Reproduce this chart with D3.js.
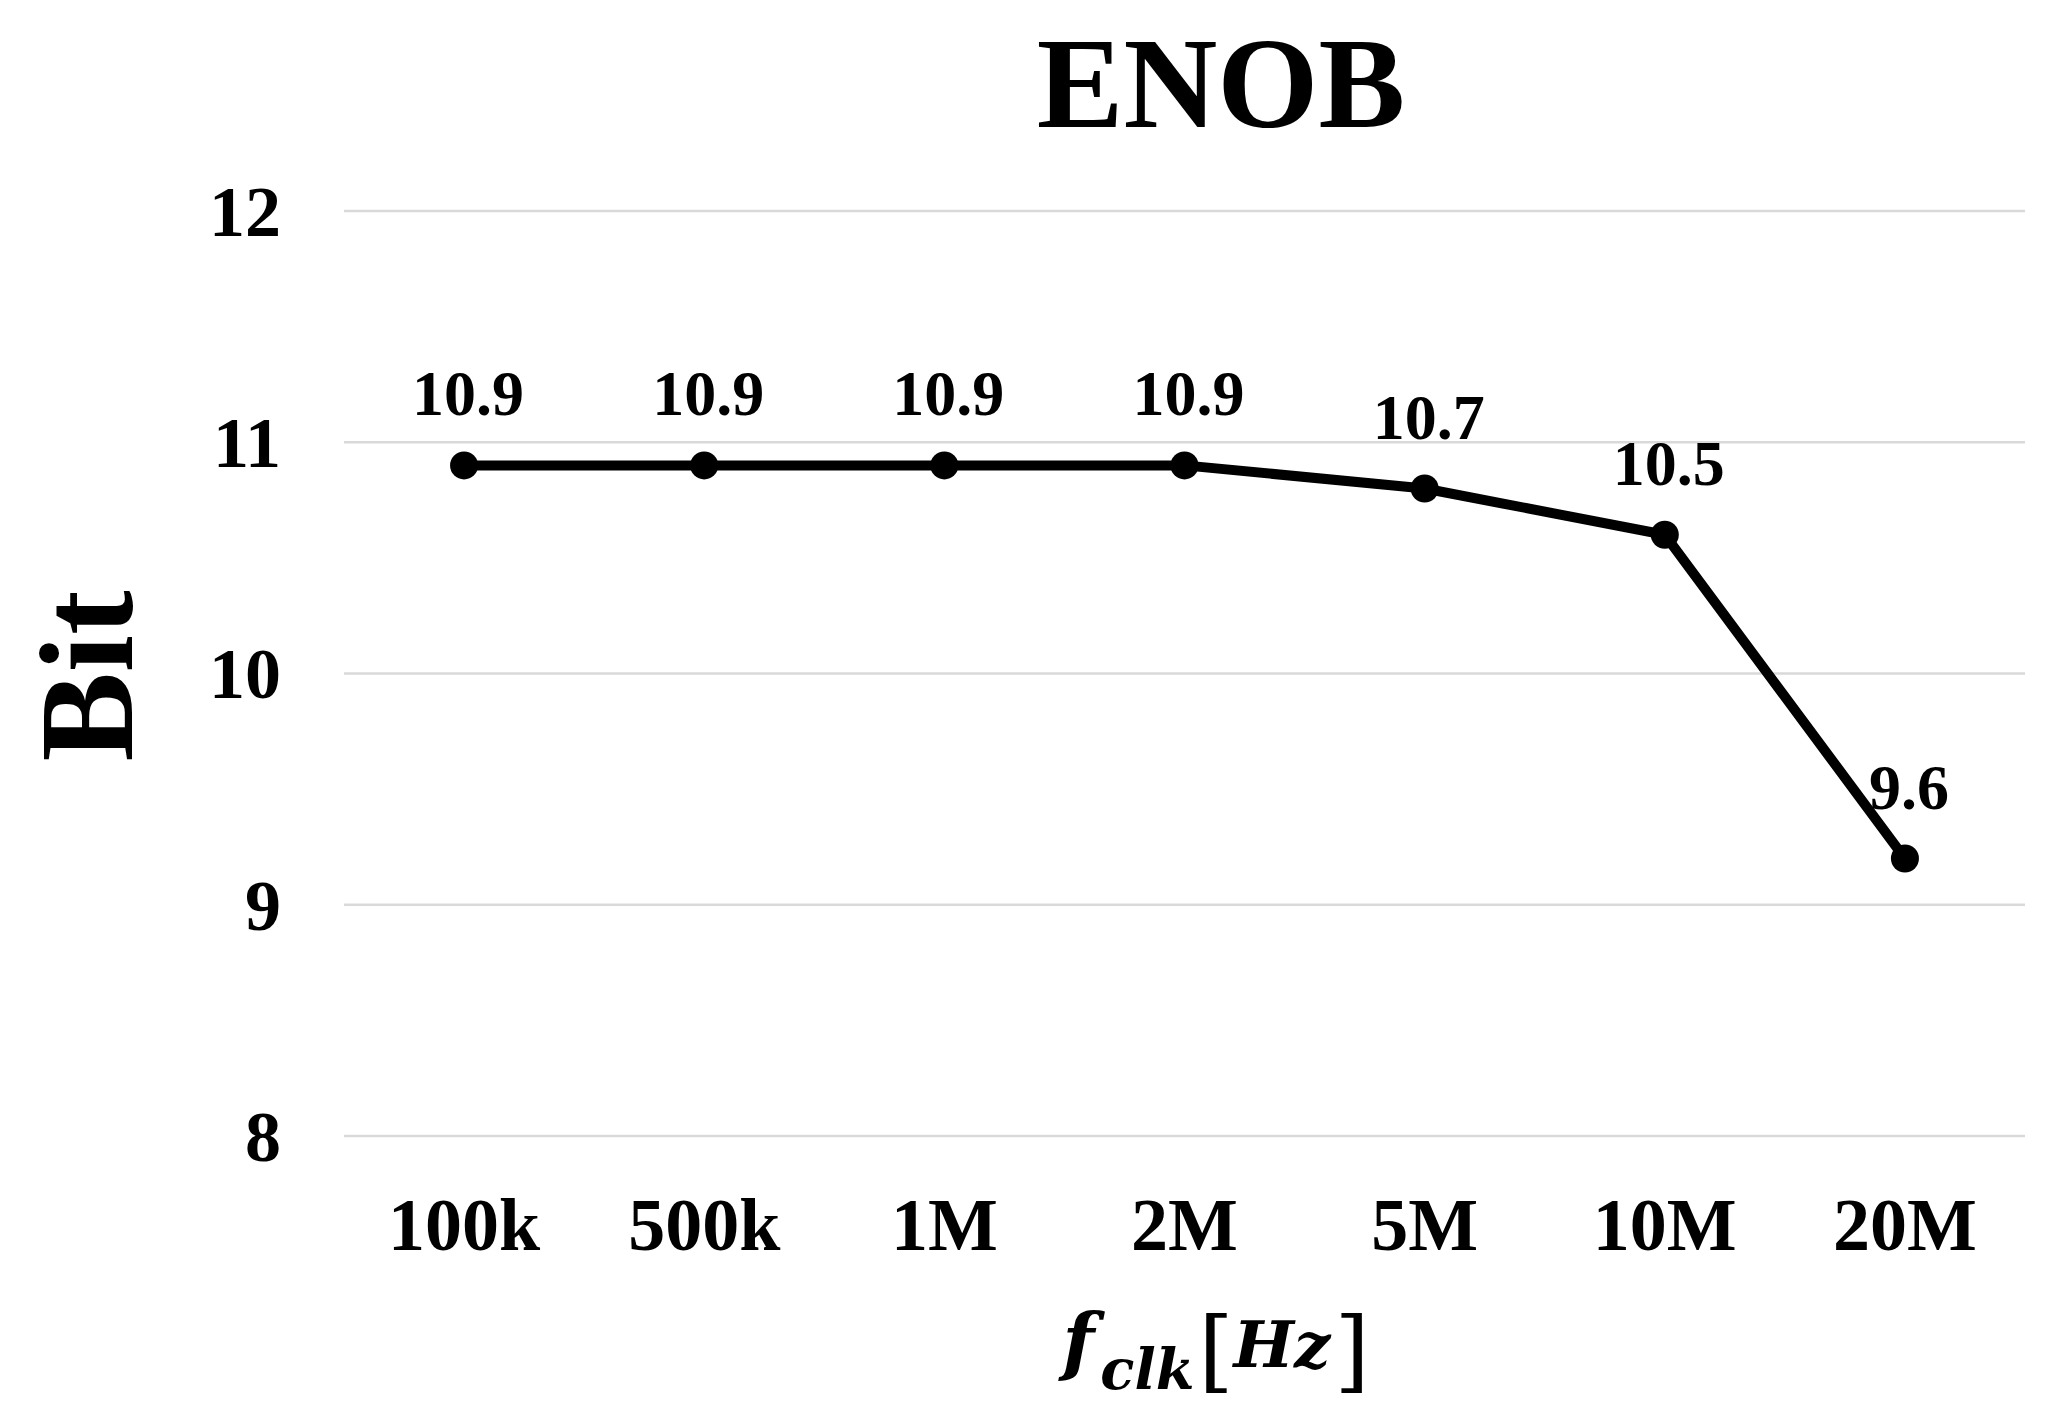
<!DOCTYPE html>
<html>
<head>
<meta charset="utf-8">
<script src="https://cdn.jsdelivr.net/npm/d3@7"></script>
<style>
  html, body { margin: 0; padding: 0; background: #fff; }
  svg { display: block; }
</style>
</head>
<body>
<svg id="chart" width="2067" height="1426"></svg>
<script>
// ---- data ----
const categories = ["100k", "500k", "1M", "2M", "5M", "10M", "20M"];
const enobValues = [10.9, 10.9, 10.9, 10.9, 10.8, 10.6, 9.2];
const enobLabels = ["10.9", "10.9", "10.9", "10.9", "10.7", "10.5", "9.6"];
const yTicks = [8, 9, 10, 11, 12];
const chartTitle = "ENOB";
const yTitle = "Bit";

// ---- layout ----
const W = 2067, H = 1426;
const plot = { left: 344, right: 2025, top: 211, bottom: 1136 };
const serif = "'Liberation Serif', 'Times New Roman', serif";

const svg = d3.select("#chart");
svg.append("rect").attr("width", W).attr("height", H).attr("fill", "#fff");

const x = d3.scaleBand().domain(categories).range([plot.left, plot.right]);
const y = d3.scaleLinear().domain([8, 12]).range([plot.bottom, plot.top]);

// gridlines
svg.append("g").selectAll("line").data(yTicks).join("line")
  .attr("x1", plot.left).attr("x2", plot.right)
  .attr("y1", d => y(d)).attr("y2", d => y(d))
  .attr("stroke", "#d9d9d9").attr("stroke-width", 2.5);

// y axis tick labels
const yAxis = svg.append("g")
  .attr("transform", `translate(${plot.left},0)`)
  .call(d3.axisLeft(y).tickValues(yTicks).tickSize(0).tickPadding(63).tickFormat(d3.format("d")));
yAxis.select(".domain").remove();
yAxis.selectAll("text")
  .attr("font-family", serif).attr("font-weight", "bold")
  .attr("font-size", 72).attr("fill", "#000").attr("dy", "0.34em");

// x axis tick labels
const xAxis = svg.append("g")
  .attr("transform", `translate(0,${plot.bottom})`)
  .call(d3.axisBottom(x).tickSize(0).tickPadding(114));
xAxis.select(".domain").remove();
xAxis.selectAll("text")
  .attr("font-family", serif).attr("font-weight", "bold")
  .attr("font-size", 74).attr("fill", "#000").attr("dy", "0");

// line
const cx = (d, i) => x(categories[i]) + x.bandwidth() / 2;
const line = d3.line().x((d, i) => cx(d, i)).y(d => y(d));
svg.append("path").datum(enobValues)
  .attr("d", line).attr("fill", "none")
  .attr("stroke", "#000").attr("stroke-width", 10).attr("stroke-linejoin", "round");

// markers
svg.append("g").selectAll("circle").data(enobValues).join("circle")
  .attr("cx", (d, i) => cx(d, i)).attr("cy", d => y(d))
  .attr("r", 14).attr("fill", "#000");

// data labels
svg.append("g").selectAll("text").data(enobValues).join("text")
  .attr("x", (d, i) => cx(d, i) + 4).attr("y", d => y(d) - 50)
  .attr("text-anchor", "middle")
  .attr("font-family", serif).attr("font-weight", "bold")
  .attr("font-size", 64).attr("fill", "#000")
  .text((d, i) => enobLabels[i]);

// title
svg.append("text")
  .attr("x", 1221).attr("y", 127).attr("text-anchor", "middle")
  .attr("font-family", serif).attr("font-weight", "bold")
  .attr("font-size", 130).attr("fill", "#000")
  .text(chartTitle);

// y axis title
svg.append("text")
  .attr("transform", "translate(132,676) rotate(-90)")
  .attr("text-anchor", "middle")
  .attr("font-family", serif).attr("font-weight", "bold")
  .attr("font-size", 134).attr("fill", "#000")
  .text(yTitle);

// x axis title: f_clk[Hz]
const mathFont = "'DejaVu Serif', serif";
const xt = svg.append("text")
  .attr("x", 1216).attr("y", 1367).attr("text-anchor", "middle")
  .attr("font-family", mathFont).attr("fill", "#000");
xt.append("tspan").attr("font-style", "italic").attr("font-weight", "bold")
  .attr("font-size", 74).text("f");
xt.append("tspan").attr("font-style", "italic").attr("font-weight", "bold")
  .attr("font-size", 56).attr("dy", 22).attr("dx", 6).text("clk");
xt.append("tspan").attr("font-size", 90).attr("dy", -8).attr("dx", 4).text("[");
xt.append("tspan").attr("font-style", "italic").attr("font-weight", "bold")
  .attr("font-size", 64).attr("dy", -14).text("Hz");
xt.append("tspan").attr("font-size", 90).attr("dy", 14).attr("dx", 4).text("]");
</script>
</body>
</html>
